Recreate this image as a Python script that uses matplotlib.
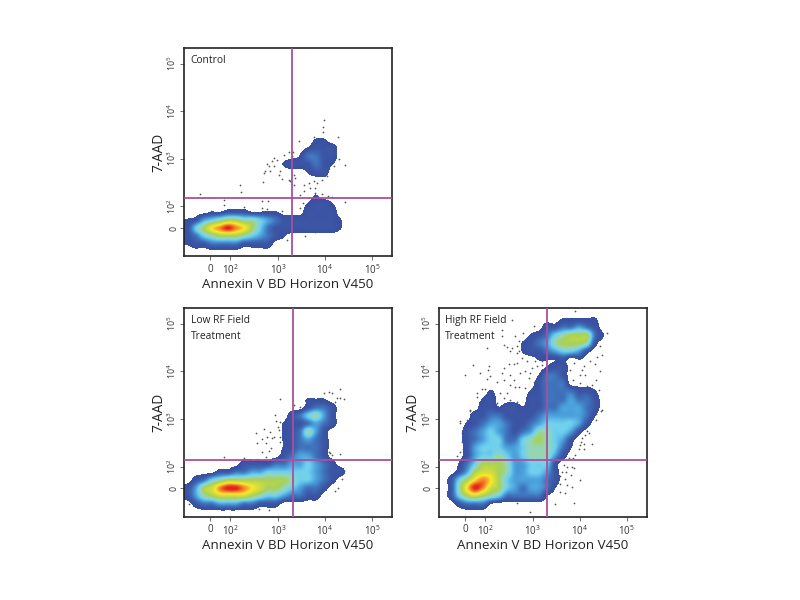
import numpy as np
import matplotlib
matplotlib.use('Agg')
import matplotlib.pyplot as plt
from matplotlib.colors import LinearSegmentedColormap, Normalize

plt.rcParams['font.family'] = ['Open Sans', 'DejaVu Sans']
plt.rcParams['mathtext.fontset'] = 'custom'
plt.rcParams['mathtext.rm'] = 'Open Sans'
plt.rcParams['mathtext.default'] = 'regular'

# density, one char per cell (24 channels wide): '.' empty, '-' faint edge, 1-9 and a = red peak
control_density = [
    "", "", "", "", "", "", "", "", "", "", "",
    "................--",
    "...............-111",
    "..............-2211",
    "............-11121-",
    "...............-11",
    "", "",
    "................-",
    "...............-11-",
    "...--111----...1111",
    "-134566554321111111-",
    "14689a9864211111111-",
    "124566654321-",
    "-1122221111",
    "",
]

low_density = [
    "", "", "", "", "", "", "", "", "", "", "",
    "...............---",
    "...............1221",
    ".............124531",
    "............-112321",
    "............-12531",
    "............-12321",
    "............-12221",
    "............123321",
    ".......111122334321",
    "....1122334444443211",
    ".124566666666544321",
    "13679aa98766543221",
    "13567777654432211",
    ".12233322111",
    "",
]

high_density = [
    "",
    "...............-----",
    ".............1122321",
    "...........-12456662-",
    "..........-123566651",
    "..........-11234431",
    "............---1.-",
    ".............-11",
    "............-221",
    "............1222",
    "......-....-1222211-",
    ".....-1....112223221",
    ".....11-11-112233321",
    "....112211112333332-",
    "...-123321123444431",
    "...123432123554431",
    "...12344224565431",
    "...1344433455542-",
    "...1344543455531",
    "..-246665334441",
    "..1367765334431",
    ".14689864333321",
    ".158a976432332-",
    ".146765422222-",
    "..1222-",
    "",
]

level_values = {'.': 0, '-': 0.45, 'a': 10}

# stray events outside the gated cloud, in plot channels
control_dots_x = [180, 300, 303, 250, 250, 312, 212, 365, 382, 365, 380, 550, 548, 548, 520, 477, 593, 615, 595, 580, 560, 430, 445, 458, 455, 400, 410, 380, 385, 375, 372, 390, 400, 395, 420, 415, 368, 425, 445, 460, 465, 450, 462, 490, 505, 520, 530, 545, 525, 510, 490, 480, 525, 545, 563, 575, 615, 487, 480, 440, 493, 545, 525, 425, 560]
control_dots_y = [462, 437, 458, 482, 497, 501, 515, 484, 484, 505, 508, 240, 262, 278, 293, 305, 293, 375, 357, 380, 410, 345, 338, 338, 350, 355, 360, 372, 378, 395, 400, 395, 380, 365, 395, 405, 428, 418, 420, 405, 415, 425, 435, 435, 430, 425, 430, 420, 445, 445, 455, 465, 460, 462, 470, 472, 488, 490, 505, 601, 590, 575, 578, 515, 480]

low_dots_x = [418, 460, 478, 403, 408, 418, 370, 348, 388, 412, 415, 400, 380, 395, 365, 378, 350, 393, 385, 365, 418, 420, 250, 310, 320, 300, 378, 168, 550, 565, 575, 598, 612, 585, 600, 590, 600, 570, 612, 605, 593, 585, 355, 385, 145, 565, 575]
low_dots_y = [298, 316, 322, 345, 362, 365, 388, 400, 395, 380, 390, 410, 412, 415, 418, 430, 430, 445, 452, 455, 410, 425, 470, 475, 497, 490, 470, 540, 280, 277, 280, 268, 298, 305, 295, 295, 463, 460, 512, 538, 565, 572, 628, 630, 612, 455, 465]

high_dots_x = [335, 402, 430, 305, 305, 345, 367, 355, 260, 310, 320, 350, 335, 330, 350, 357, 218, 267, 263, 240, 195, 260, 270, 290, 310, 325, 340, 365, 380, 405, 410, 395, 425, 305, 330, 310, 340, 360, 385, 390, 375, 330, 345, 355, 320, 300, 255, 245, 230, 270, 230, 210, 290, 310, 330, 350, 355, 375, 395, 400, 315, 335, 350,
               525, 430, 620, 600, 605, 590, 570, 585, 600, 550, 545, 555, 540, 520, 510, 517, 540, 588, 595, 560, 575, 545, 530, 605, 585, 425, 450,
               210, 200, 180, 190, 185, 185, 180, 170, 350, 325, 388, 178, 192, 195, 188,
               602, 588, 588, 565, 560, 565, 555, 545, 542, 550, 538, 575, 535, 550, 525, 517, 505, 490, 500, 515, 522, 485, 498, 512, 480, 495, 538, 480, 500, 515, 495, 478, 520, 465]
high_dots_y = [60, 80, 73, 90, 110, 110, 100, 125, 145, 135, 143, 140, 145, 155, 160, 153, 197, 200, 210, 220, 227, 237, 230, 245, 205, 193, 193, 175, 185, 185, 200, 205, 185, 220, 225, 240, 240, 220, 235, 220, 215, 255, 260, 260, 280, 280, 267, 267, 280, 275, 290, 330, 310, 295, 300, 305, 325, 265, 265, 245, 315, 315, 190,
               33, 75, 100, 140, 165, 173, 185, 193, 215, 200, 210, 225, 227, 190, 210, 240, 250, 240, 270, 257, 255, 265, 265, 330, 340, 195, 200,
               332, 360, 362, 390, 400, 425, 455, 468, 610, 600, 635, 370, 410, 435, 448,
               332, 342, 360, 372, 392, 400, 405, 415, 425, 433, 435, 433, 447, 447, 465, 475, 475, 495, 502, 500, 505, 515, 515, 525, 527, 537, 540, 552, 555, 560, 580, 575, 608, 613]

x_tick_labels = ['0', '$10^2$', '$10^3$', '$10^4$', '$10^5$']
y_tick_labels = ['0', '$10^2$', '$10^3$', '$10^4$', '$10^5$']
y_ticks = [565, 500, 357, 214, 72]

cloud_colors = [(0.0, '#3a50a0'), (0.07, '#3c55a5'), (0.17, '#3f72bb'), (0.275, '#4ba2dc'), (0.38, '#6fd0f0'),
                (0.48, '#95d6b8'), (0.585, '#a8d15a'), (0.69, '#cfdc3c'), (0.79, '#f7e92d'), (0.895, '#f58a2a'), (1.0, '#e2231f')]
cloud_cmap = LinearSegmentedColormap.from_list('cloud', cloud_colors)
cloud_cmap.set_under((1, 1, 1, 0))
cloud_norm = Normalize(vmin=0.35, vmax=10)


def to_grid(rows):
    # pad short rows so every row has 26 cells
    grid = np.zeros((26, 26))
    for r, row in enumerate(rows):
        for c, ch in enumerate(row):
            grid[r, c] = level_values.get(ch, 0) if not ch.isdigit() else int(ch)
    return grid


def draw_panel(rect, rows, dots_x, dots_y, x_ticks, gate_x, gate_y, title):
    left, right, top, bottom = rect
    ax = fig.add_axes([left / 800, 1 - bottom / 600, (right - left) / 800, (bottom - top) / 600])
    x0 = x_ticks[0] - 79
    ax.scatter(dots_x, dots_y, s=1.6, color='#555555', linewidths=0, zorder=1)
    ax.imshow(to_grid(rows), extent=(x0, x0 + 624, 649, 25), aspect='auto', cmap=cloud_cmap, norm=cloud_norm,
              interpolation='catrom', interpolation_stage='data', zorder=2)
    ax.axvline(gate_x, color='#a9509f', lw=1.3, zorder=3)
    ax.axhline(gate_y, color='#a9509f', lw=1.3, zorder=3)
    ax.set_xlim(x0, x0 + 624)
    ax.set_ylim(649, 25)
    ax.set_xticks(x_ticks)
    ax.set_xticklabels(x_tick_labels, fontsize=7, color='#333333')
    ax.set_yticks(y_ticks)
    ax.set_yticklabels(y_tick_labels, fontsize=6.4, color='#333333', rotation=90, va='center')
    ax.tick_params(length=3, width=0.6, color='#555555', pad=1)
    ax.tick_params(axis='x', pad=2.5)
    for sp in ax.spines.values():
        sp.set_linewidth(1.2)
        sp.set_color('#222222')
    ax.set_xlabel('Annexin V BD Horizon V450', fontsize=9.6, color='#222222', labelpad=0.5)
    ax.set_ylabel('7-AAD', fontsize=9.8, color='#222222', labelpad=0)
    ax.text(x0 + 20, 47, title, fontsize=7.4, color='#222222', va='top', linespacing=1.6, zorder=4)
    return ax


fig = plt.figure(figsize=(8, 6), dpi=100)
draw_panel((184, 392, 48, 256), control_density, control_dots_x, control_dots_y,
           [210, 270, 413, 553, 695], 456, 475, 'Control')
draw_panel((184, 392, 308, 516.5), low_density, low_dots_x, low_dots_y,
           [210, 270, 413, 553, 695], 459, 481, 'Low RF Field\nTreatment')
draw_panel((438.5, 646.5, 308, 516.5), high_density, high_dots_x, high_dots_y,
           [194, 255, 397, 538, 680], 441, 480, 'High RF Field\nTreatment')

plt.savefig('out.png', dpi=100)
